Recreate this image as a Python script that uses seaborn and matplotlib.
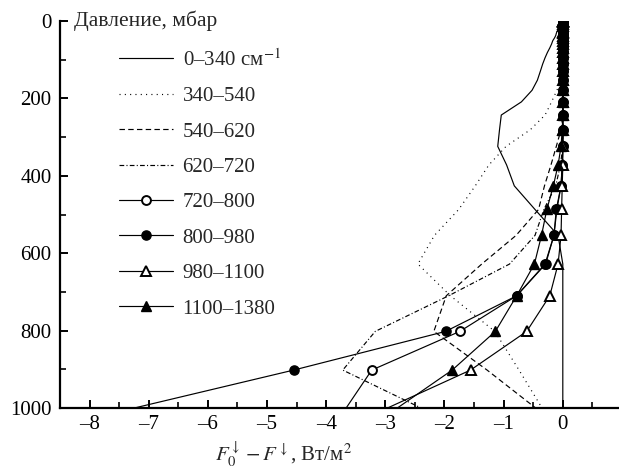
import matplotlib
matplotlib.use("Agg")
import matplotlib.pyplot as plt
import seaborn as sns
from matplotlib.ticker import MultipleLocator, FixedLocator, FuncFormatter

# Pressure levels, mbar (top of atmosphere -> surface)
pressure = [0.0003, 0.0671, 0.951, 1.76, 3.33, 6.52, 13.2, 27.7, 32.2, 37.6,
            43.7, 51.0, 59.5, 69.5, 81.2, 95.0, 111, 130, 153, 179,
            209, 243, 281, 324, 372, 426, 487, 554, 628, 710,
            802, 902, 1013]

band_0_340 = [0.0, 0.0, -0.01, -0.01, -0.02, -0.03, -0.05, -0.10, -0.11, -0.12,
              -0.14, -0.17, -0.19, -0.22, -0.26, -0.30, -0.34, -0.38, -0.43, -0.52,
              -0.70, -1.04, -1.07, -1.10, -0.95, -0.82, -0.47, -0.08, 0.0, 0.0,
              0.0, 0.0, 0.0]
band_340_540 = [0.0, 0.0, 0.0, 0.0, 0.0, 0.0, 0.0, 0.0, 0.0, 0.0,
                0.0, 0.0, 0.0, 0.0, 0.0, 0.0, 0.0, 0.0, -0.02, -0.10,
                -0.19, -0.30, -0.55, -0.96, -1.25, -1.48, -1.76, -2.17, -2.45, -1.90,
                -1.15, -0.74, -0.30]
band_540_620 = [0.0, 0.0, 0.0, 0.0, 0.0, 0.0, 0.0, 0.0, 0.0, 0.0,
                0.0, 0.0, 0.0, 0.0, 0.0, 0.0, 0.0, 0.0, 0.0, 0.0,
                0.0, 0.0, -0.03, -0.11, -0.20, -0.31, -0.41, -0.79, -1.37, -1.97,
                -2.18, -1.28, -0.35]
band_620_720 = [0.0, 0.0, 0.0, 0.0, 0.0, 0.0, 0.0, 0.0, 0.0, 0.0,
                0.0, 0.0, 0.0, 0.0, 0.0, 0.0, 0.0, 0.0, 0.0, 0.0,
                0.0, 0.0, 0.0, 0.0, -0.04, -0.12, -0.32, -0.47, -0.90, -1.93,
                -3.17, -3.72, -2.22]
band_720_800 = [0.0, 0.0, 0.0, 0.0, 0.0, 0.0, 0.0, 0.0, 0.0, 0.0,
                0.0, 0.0, 0.0, 0.0, 0.0, 0.0, 0.0, 0.0, 0.0, 0.0,
                0.0, 0.0, 0.0, 0.0, -0.01, -0.03, -0.11, -0.15, -0.30, -0.78,
                -1.74, -3.23, -3.72]
band_800_980 = [0.0, 0.0, 0.0, 0.0, 0.0, 0.0, 0.0, 0.0, 0.0, 0.0,
                0.0, 0.0, 0.0, 0.0, 0.0, 0.0, 0.0, 0.0, 0.0, 0.0,
                0.0, 0.0, 0.0, 0.0, -0.01, -0.03, -0.10, -0.15, -0.29, -0.78,
                -1.98, -4.55, -7.60]
band_980_1100 = [0.0, 0.0, 0.0, 0.0, 0.0, 0.0, 0.0, 0.0, 0.0, 0.0,
                 0.0, 0.0, 0.0, 0.0, 0.0, 0.0, 0.0, 0.0, 0.0, 0.0,
                 0.0, 0.0, 0.0, 0.0, 0.0, -0.01, -0.02, -0.03, -0.08, -0.22,
                 -0.61, -1.56, -3.15]
band_1100_1380 = [0.0, 0.0, 0.0, 0.0, 0.0, 0.0, 0.0, 0.0, 0.0, 0.0,
                  0.0, 0.0, 0.0, 0.0, 0.0, 0.0, 0.0, 0.0, 0.0, 0.0,
                  0.0, 0.0, -0.01, -0.03, -0.08, -0.16, -0.27, -0.36, -0.48, -0.78,
                  -1.14, -1.87, -2.92]

labels = ["0–340 см$^{-1}$", "340–540", "540–620", "620–720",
          "720–800", "800–980", "980–1100", "1100–1380"]
x_ticks = [-8, -7, -6, -5, -4, -3, -2, -1, 0]
y_ticks = [0, 200, 400, 600, 800, 1000]

sns.set_theme(style="ticks")
plt.rcParams['font.family'] = ['Liberation Serif', 'DejaVu Serif']
plt.rcParams['mathtext.fontset'] = 'stix'
plt.rcParams['axes.unicode_minus'] = False

W, H = 619, 472
fig = plt.figure(figsize=(W / 100, H / 100), dpi=100)
ax = fig.add_axes([60 / W, 1 - 408 / H, 1 - 60 / W, (408 - 21) / H])

lw = 0.85
styles = [
    dict(linestyle='-'),
    dict(linestyle=(0, (0.9, 3.6))),
    dict(linestyle=(0, (4.6, 2.8))),
    dict(linestyle=(0, (4.0, 1.9, 0.9, 1.9))),
    dict(linestyle='-', marker='o', markersize=6.4, markerfacecolor='white',
         markeredgecolor='black', markeredgewidth=1.4),
    dict(linestyle='-', marker='o', markersize=6.6, markerfacecolor='black',
         markeredgecolor='black', markeredgewidth=1.0),
    dict(linestyle='-', marker='^', markersize=7.8, markerfacecolor='white',
         markeredgecolor='black', markeredgewidth=1.4),
    dict(linestyle='-', marker='^', markersize=7.8, markerfacecolor='black',
         markeredgecolor='black', markeredgewidth=1.0),
]
series = [band_0_340, band_340_540, band_540_620, band_620_720,
          band_720_800, band_800_980, band_980_1100, band_1100_1380]

for i, (vals, lab, st) in enumerate(zip(series, labels, styles)):
    sns.lineplot(x=vals, y=pressure, sort=False, estimator=None, ax=ax,
                 color='black', linewidth=lw, label=lab, zorder=2 + i * 0.1, **st)

ax.set_xlim(-8.5, 0.95)
ax.set_ylim(1000, 0)
ax.set_xlabel("")
ax.set_ylabel("")

ax.xaxis.set_major_locator(FixedLocator(x_ticks))
ax.xaxis.set_minor_locator(MultipleLocator(0.5))
ax.yaxis.set_major_locator(FixedLocator(y_ticks))
ax.yaxis.set_minor_locator(MultipleLocator(100))
fmt = FuncFormatter(lambda v, p: ("–%d" % abs(round(v))) if v < 0 else "%d" % round(v))
ax.xaxis.set_major_formatter(fmt)
ax.yaxis.set_major_formatter(FuncFormatter(lambda v, p: "%d" % round(v)))

for s in ['top', 'right']:
    ax.spines[s].set_visible(False)
for s in ['left', 'bottom']:
    ax.spines[s].set_linewidth(1.6)
    ax.spines[s].set_color('black')

ax.tick_params(axis='both', which='major', direction='in', length=6, width=1.4,
               labelsize=15, colors='black')
ax.tick_params(axis='both', which='minor', direction='in', length=4, width=1.2,
               colors='black')
ax.tick_params(axis='y', which='major', pad=6)
ax.tick_params(axis='x', which='major', pad=5)

leg = ax.legend(loc='upper left', bbox_to_anchor=(119 / W, 1 - 49 / H),
                bbox_transform=fig.transFigure, frameon=False, fontsize=15,
                handlelength=2.6, handletextpad=0.45, labelspacing=0.76,
                borderpad=0, borderaxespad=0)

fig.text(74 / W, 1 - 21 / H, "Давление, мбар", ha='left', va='center', fontsize=15.5)
fig.text(283 / W, 1 - 461 / H, r"$F_0^{\downarrow} - F^{\downarrow}$, Вт/м$^2$",
         ha='center', va='baseline', fontsize=15)

fig.savefig("out.png", dpi=100)
